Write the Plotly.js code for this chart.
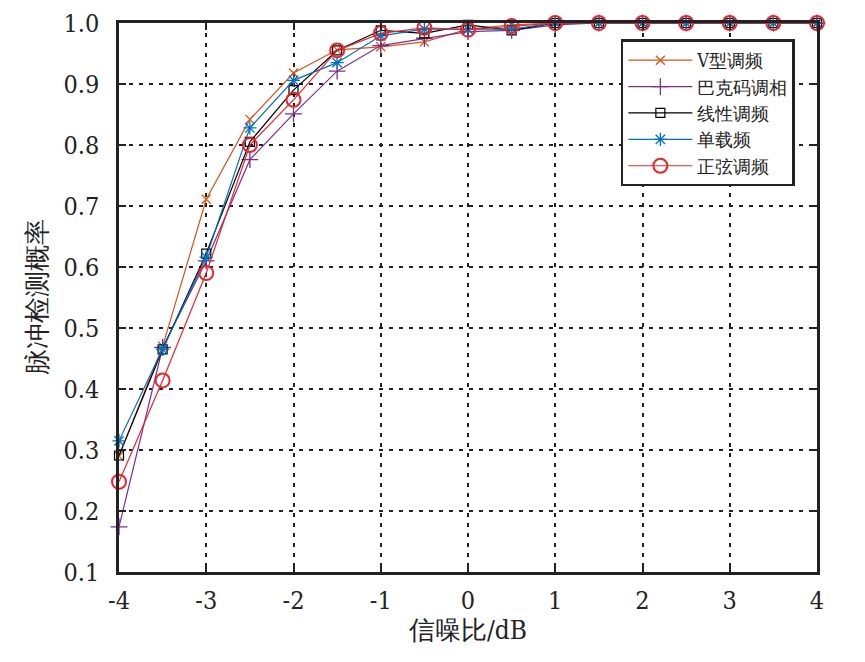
<!DOCTYPE html>
<html>
<head>
<meta charset="utf-8">
<script src="https://cdn.plot.ly/plotly-3.0.1.min.js"></script>
<style>
  html, body { margin: 0; padding: 0; background: #fff; }
  #chart { width: 865px; height: 662px; }
</style>
</head>
<body>
<div id="chart"></div>
<script>
// 信噪比 (dB)
var snr = [-4, -3.5, -3, -2.5, -2, -1.5, -1, -0.5, 0, 0.5, 1, 1.5, 2, 2.5, 3, 3.5, 4];
var xTicks = [-4, -3, -2, -1, 0, 1, 2, 3, 4];
var xTickText = ["-4", "-3", "-2", "-1", "0", "1", "2", "3", "4"];

// detection probability for each waveform
var vFm      = [0.290, 0.470, 0.711, 0.842, 0.918, 0.956, 0.961, 0.969, 0.990, 0.997, 1, 1, 1, 1, 1, 1, 1];
var barker   = [0.174, 0.468, 0.610, 0.776, 0.851, 0.921, 0.963, 0.975, 0.986, 0.988, 0.997, 1, 1, 1, 1, 1, 1];
var lfm      = [0.291, 0.465, 0.622, 0.805, 0.890, 0.955, 0.988, 0.983, 0.997, 0.988, 1, 1, 1, 1, 1, 1, 1];
var single   = [0.315, 0.465, 0.616, 0.828, 0.906, 0.935, 0.979, 0.990, 0.990, 0.990, 1, 1, 1, 1, 1, 1, 1];
var sinFm    = [0.248, 0.414, 0.590, 0.800, 0.874, 0.955, 0.983, 0.992, 0.989, 0.995, 1, 1, 1, 1, 1, 1, 1];

var names = ["V型调频", "巴克码调相", "线性调频", "单载频", "正弦调频"];

var font = "DejaVu Serif Condensed, DejaVu Serif";

function trace(y, name, color, symbol, size, width) {
  return {
    x: snr, y: y, name: name,
    type: "scatter", mode: "lines+markers",
    line: {color: color, width: 1.2},
    marker: {symbol: symbol, size: size, color: color, line: {color: color, width: width}},
    cliponaxis: false
  };
}

var data = [
  trace(vFm,    names[0], "#D95319", "x-thin-open", 9, 1.3),
  trace(barker, names[1], "#7E2F8E", "cross-thin-open", 12, 1.3),
  trace(lfm,    names[2], "#000000", "square-open", 9, 1.2),
  trace(single, names[3], "#0072BD", "asterisk-open", 11, 1.3),
  trace(sinFm,  names[4], "#E8262B", "circle-open", 14, 2)
];

var axisCommon = {
  showline: true, mirror: "ticks", linecolor: "#222", linewidth: 2.5,
  ticks: "inside", ticklen: 7, tickwidth: 2, tickcolor: "#222",
  showgrid: true, gridcolor: "#222", gridwidth: 1.6, griddash: "4px,6px",
  zeroline: false,
  tickfont: {family: font, size: 25, color: "#222"}
};

var layout = {
  width: 865, height: 662,
  margin: {l: 119, r: 48, t: 23, b: 90},
  paper_bgcolor: "#fff", plot_bgcolor: "#fff",
  font: {family: font},
  showlegend: true,
  legend: {
    x: 0.719, y: 0.97, xanchor: "left", yanchor: "top",
    bgcolor: "#fff", bordercolor: "#222", borderwidth: 2.5,
    font: {family: font, size: 18, color: "#222"},
    tracegroupgap: 0, itemwidth: 64
  },
  xaxis: Object.assign({}, axisCommon, {
    range: [-4, 4], tickvals: xTicks, ticktext: xTickText,
    ticklabelstandoff: 4,
    title: {text: "信噪比/dB", font: {family: font, size: 26, color: "#222"}, standoff: 4}
  }),
  yaxis: Object.assign({}, axisCommon, {
    range: [0.1, 1.0], dtick: 0.1, tickformat: ".1f",
    ticklabelstandoff: 12,
    title: {text: "脉冲检测概率", font: {family: font, size: 26, color: "#222"}, standoff: 10}
  })
};

Plotly.newPlot("chart", data, layout, {displayModeBar: false});
</script>
</body>
</html>
